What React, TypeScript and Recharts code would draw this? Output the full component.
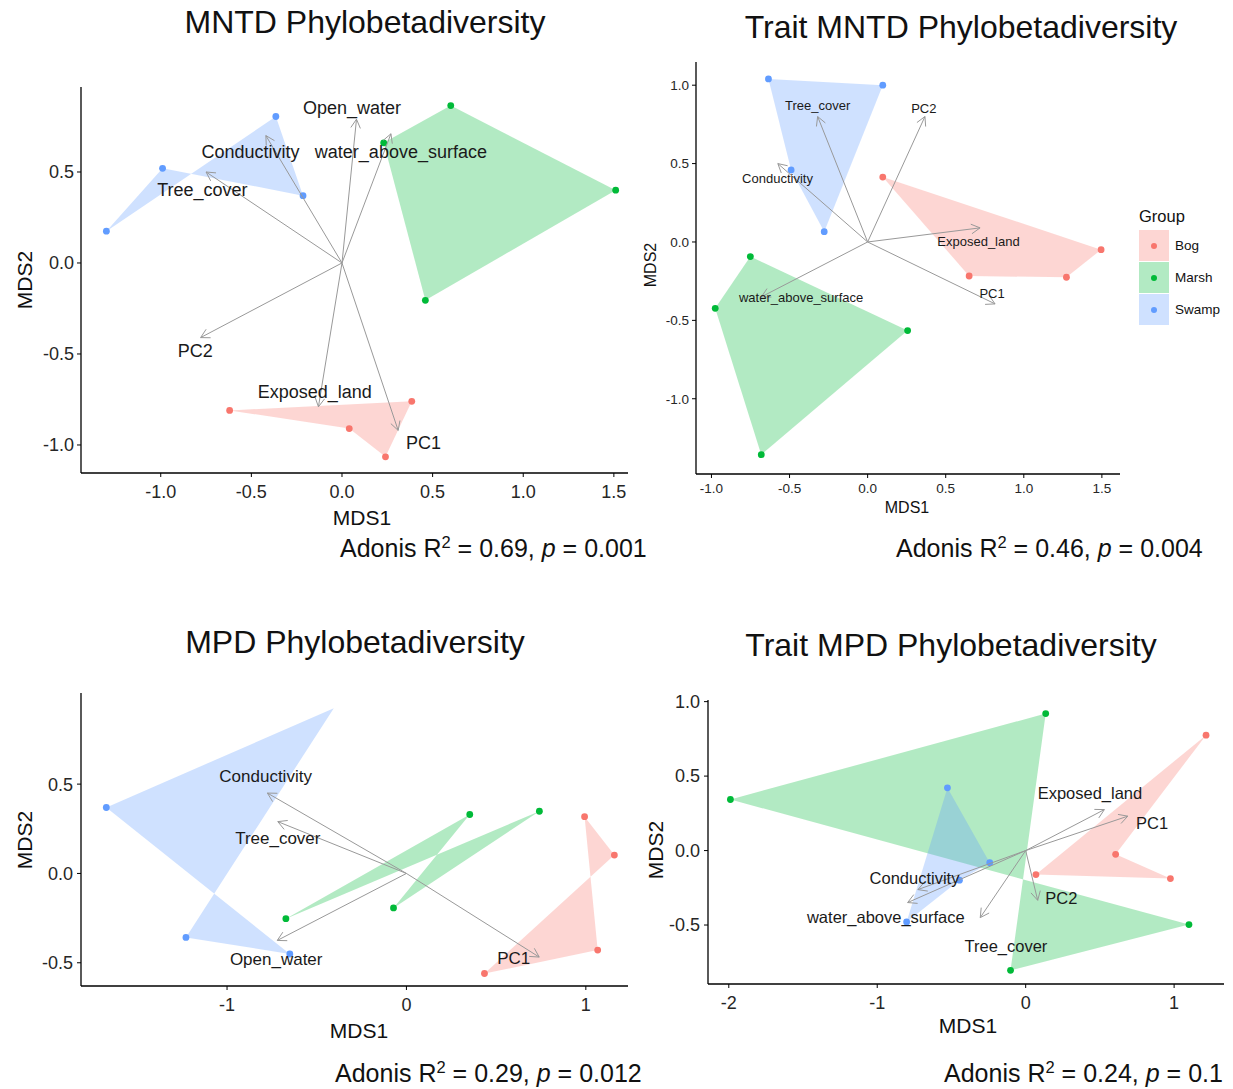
import React from 'react';
import { ScatterChart, Scatter, XAxis, YAxis } from 'recharts';

type Pt = { x: number; y: number; hidden?: boolean };
type Vec = { name: string; x: number; y: number };

const groups = ['Bog', 'Marsh', 'Swamp'];
const groupColors = ['#F8766D', '#00BA38', '#619CFF'];

// MNTD Phylobetadiversity
const mntdBog: Pt[] = [{ x: -0.62, y: -0.81 }, { x: 0.04, y: -0.91 }, { x: 0.24, y: -1.065 }, { x: 0.385, y: -0.76 }];
const mntdMarsh: Pt[] = [{ x: 0.23, y: 0.66 }, { x: 0.6, y: 0.865 }, { x: 1.51, y: 0.4 }, { x: 0.46, y: -0.205 }];
const mntdSwamp: Pt[] = [{ x: -1.3, y: 0.175 }, { x: -0.99, y: 0.52 }, { x: -0.215, y: 0.37 }, { x: -0.365, y: 0.805 }];
const mntdArrows: Vec[] = [
  { name: 'Open_water', x: 0.08, y: 0.79 },
  { name: 'water_above_surface', x: 0.27, y: 0.71 },
  { name: 'Conductivity', x: -0.42, y: 0.7 },
  { name: 'Tree_cover', x: -0.75, y: 0.5 },
  { name: 'PC2', x: -0.78, y: -0.41 },
  { name: 'Exposed_land', x: -0.13, y: -0.79 },
  { name: 'PC1', x: 0.31, y: -0.92 },
];
const mntdLabels: Vec[] = [
  { name: 'Open_water', x: 0.055, y: 0.85 },
  { name: 'water_above_surface', x: 0.325, y: 0.61 },
  { name: 'Conductivity', x: -0.505, y: 0.61 },
  { name: 'Tree_cover', x: -0.77, y: 0.4 },
  { name: 'PC2', x: -0.81, y: -0.485 },
  { name: 'Exposed_land', x: -0.15, y: -0.71 },
  { name: 'PC1', x: 0.45, y: -0.99 },
];

// Trait MNTD Phylobetadiversity
const tmntdBog: Pt[] = [{ x: 0.097, y: 0.414 }, { x: 1.495, y: -0.049 }, { x: 1.273, y: -0.225 }, { x: 0.65, y: -0.217 }];
const tmntdMarsh: Pt[] = [{ x: -0.751, y: -0.093 }, { x: 0.256, y: -0.565 }, { x: -0.681, y: -1.357 }, { x: -0.976, y: -0.423 }];
const tmntdSwamp: Pt[] = [{ x: -0.635, y: 1.04 }, { x: 0.097, y: 1.0 }, { x: -0.278, y: 0.066 }, { x: -0.49, y: 0.459 }];
const tmntdArrows: Vec[] = [
  { name: 'Tree_cover', x: -0.32, y: 0.8 },
  { name: 'PC2', x: 0.367, y: 0.8 },
  { name: 'Conductivity', x: -0.575, y: 0.5 },
  { name: 'Exposed_land', x: 0.72, y: 0.09 },
  { name: 'PC1', x: 0.816, y: -0.395 },
  { name: 'water_above_surface', x: -0.68, y: -0.35 },
];
const tmntdLabels: Vec[] = [
  { name: 'Tree_cover', x: -0.32, y: 0.87 },
  { name: 'PC2', x: 0.36, y: 0.852 },
  { name: 'Conductivity', x: -0.577, y: 0.408 },
  { name: 'Exposed_land', x: 0.71, y: 0.005 },
  { name: 'PC1', x: 0.797, y: -0.331 },
  { name: 'water_above_surface', x: -0.426, y: -0.351 },
];

// MPD Phylobetadiversity
const mpdBog: Pt[] = [{ x: 0.993, y: 0.318 }, { x: 1.159, y: 0.103 }, { x: 0.435, y: -0.56 }, { x: 1.066, y: -0.429 }];
const mpdMarsh: Pt[] = [{ x: -0.672, y: -0.253 }, { x: 0.353, y: 0.33 }, { x: -0.072, y: -0.193 }, { x: 0.741, y: 0.348 }];
const mpdSwamp: Pt[] = [{ x: -1.673, y: 0.369 }, { x: -0.405, y: 0.925, hidden: true }, { x: -1.229, y: -0.358 }, { x: -0.65, y: -0.451 }];
const mpdArrows: Vec[] = [
  { name: 'Conductivity', x: -0.775, y: 0.45 },
  { name: 'Tree_cover', x: -0.717, y: 0.29 },
  { name: 'Open_water', x: -0.72, y: -0.375 },
  { name: 'PC1', x: 0.74, y: -0.468 },
];
const mpdLabels: Vec[] = [
  { name: 'Conductivity', x: -0.785, y: 0.54 },
  { name: 'Tree_cover', x: -0.717, y: 0.195 },
  { name: 'Open_water', x: -0.726, y: -0.48 },
  { name: 'PC1', x: 0.598, y: -0.478 },
];

// Trait MPD Phylobetadiversity
const tmpdBog: Pt[] = [{ x: 0.069, y: -0.161 }, { x: 1.215, y: 0.775 }, { x: 0.606, y: -0.025 }, { x: 0.975, y: -0.188 }];
const tmpdMarsh: Pt[] = [{ x: -1.989, y: 0.343 }, { x: 0.135, y: 0.92 }, { x: -0.102, y: -0.804 }, { x: 1.1, y: -0.497 }];
const tmpdSwamp: Pt[] = [{ x: -0.527, y: 0.421 }, { x: -0.242, y: -0.081 }, { x: -0.446, y: -0.199 }, { x: -0.802, y: -0.479 }];
const tmpdArrows: Vec[] = [
  { name: 'Exposed_land', x: 0.53, y: 0.275 },
  { name: 'PC1', x: 0.688, y: 0.231 },
  { name: 'PC2', x: 0.081, y: -0.334 },
  { name: 'Tree_cover', x: -0.306, y: -0.45 },
  { name: 'Conductivity', x: -0.726, y: -0.262 },
  { name: 'water_above_surface', x: -0.795, y: -0.349 },
];
const tmpdLabels: Vec[] = [
  { name: 'Exposed_land', x: 0.433, y: 0.384 },
  { name: 'PC1', x: 0.852, y: 0.183 },
  { name: 'PC2', x: 0.24, y: -0.321 },
  { name: 'Tree_cover', x: -0.133, y: -0.642 },
  { name: 'Conductivity', x: -0.749, y: -0.186 },
  { name: 'water_above_surface', x: -0.942, y: -0.449 },
];

const fmt1 = (v: number) => v.toFixed(1);
const fmt0 = (v: number) => String(v);

const noShape = () => <g />;

const drawArrow = (p: any) => {
  const [a, b] = p.points;
  const ang = Math.atan2(b.y - a.y, b.x - a.x);
  const L = 10;
  const s = 0.5;
  const h1x = b.x - L * Math.cos(ang - s);
  const h1y = b.y - L * Math.sin(ang - s);
  const h2x = b.x - L * Math.cos(ang + s);
  const h2y = b.y - L * Math.sin(ang + s);
  return (
    <path
      d={`M${a.x},${a.y}L${b.x},${b.y}M${h1x},${h1y}L${b.x},${b.y}L${h2x},${h2y}`}
      stroke="#999"
      strokeWidth={1}
      fill="none"
    />
  );
};

type PanelProps = {
  box: { l: number; r: number; t: number; b: number };
  xDomain: [number, number];
  yDomain: [number, number];
  xTicks: number[];
  yTicks: number[];
  xFmt: (v: number) => string;
  hulls: Pt[][];
  arrows: Vec[];
  labels: Vec[];
  tickSize: number;
  labelSize: number;
  xMargin: number;
  yMargin: number;
};

const Panel = ({ box, xDomain, yDomain, xTicks, yTicks, xFmt, hulls, arrows, labels, tickSize, labelSize, xMargin, yMargin }: PanelProps) => {
  const yw = 70, mt = 10, mr = 10, xh = 40;
  const w = yw + (box.r - box.l) + mr;
  const h = mt + (box.b - box.t) + xh;
  const tickStyle = { fontSize: tickSize, fill: '#262626' };
  return (
    <div style={{ position: 'absolute', left: box.l - yw, top: box.t - mt }}>
      <ScatterChart width={w} height={h} margin={{ top: mt, right: mr, bottom: 0, left: 0 }}>
        <XAxis
          type="number"
          dataKey="x"
          domain={xDomain}
          ticks={xTicks}
          tickFormatter={xFmt}
          height={xh}
          allowDataOverflow
          tick={tickStyle}
          tickSize={4}
          tickMargin={xMargin}
          axisLine={{ stroke: '#000', strokeWidth: 1.3 }}
          tickLine={{ stroke: '#000' }}
        />
        <YAxis
          type="number"
          dataKey="y"
          domain={yDomain}
          ticks={yTicks}
          tickFormatter={fmt1}
          width={yw}
          allowDataOverflow
          tick={tickStyle}
          tickSize={4}
          tickMargin={yMargin}
          axisLine={{ stroke: '#000', strokeWidth: 1.3 }}
          tickLine={{ stroke: '#000' }}
        />
        {hulls.map((pts, i) => (
          <Scatter
            key={'hull' + i}
            name={groups[i]}
            data={pts}
            line={{ fill: groupColors[i], fillOpacity: 0.3, stroke: 'none' }}
            lineJointType="linearClosed"
            shape={noShape}
            isAnimationActive={false}
          />
        ))}
        {hulls.map((pts, i) => (
          <Scatter
            key={'pts' + i}
            data={pts.filter((p) => !p.hidden)}
            shape={(p: any) => <circle cx={p.cx} cy={p.cy} r={3.4} fill={groupColors[i]} />}
            isAnimationActive={false}
          />
        ))}
        {arrows.map((a) => (
          <Scatter
            key={'arr' + a.name}
            data={[{ x: 0, y: 0 }, { x: a.x, y: a.y }]}
            line={drawArrow}
            shape={noShape}
            isAnimationActive={false}
          />
        ))}
        <Scatter
          data={labels}
          shape={(p: any) => (
            <text x={p.cx} y={p.cy} textAnchor="middle" dominantBaseline="central" fontSize={labelSize} fill="#1a1a1a">
              {p.payload ? p.payload.name : p.name}
            </text>
          )}
          isAnimationActive={false}
        />
      </ScatterChart>
    </div>
  );
};

const Txt = ({ x, y, size, children, rotate, align }: { x: number; y: number; size: number; children: React.ReactNode; rotate?: boolean; align?: 'left' }) => (
  <div
    style={{
      position: 'absolute',
      left: x,
      top: y,
      fontSize: size,
      lineHeight: 1,
      whiteSpace: 'nowrap',
      color: '#111',
      transform: align === 'left' ? 'translate(0,-50%)' : `translate(-50%,-50%)${rotate ? ' rotate(-90deg)' : ''}`,
    }}
  >
    {children}
  </div>
);

const Adonis = ({ x, y, r2, p }: { x: number; y: number; r2: string; p: string }) => (
  <Txt x={x} y={y} size={25} align="left">
    Adonis R<span style={{ fontSize: '0.66em', position: 'relative', top: '-0.55em' }}>2</span> = {r2}, <i>p</i> = {p}
  </Txt>
);

const App = () => {
  return (
    <div
      style={{
        position: 'absolute',
        left: 0,
        top: 0,
        width: 1233,
        height: 1089,
        background: '#fff',
        fontFamily: '"Liberation Sans", Arial, sans-serif',
        overflow: 'hidden',
      }}
    >
      <Txt x={365} y={22} size={32}>MNTD Phylobetadiversity</Txt>
      <Txt x={961} y={27} size={32}>Trait MNTD Phylobetadiversity</Txt>
      <Txt x={355} y={642} size={32}>MPD Phylobetadiversity</Txt>
      <Txt x={951} y={645} size={32}>Trait MPD Phylobetadiversity</Txt>

      <Panel
        box={{ l: 81, r: 628, t: 87, b: 473 }}
        xDomain={[-1.44, 1.578]}
        yDomain={[-1.154, 0.967]}
        xTicks={[-1, -0.5, 0, 0.5, 1, 1.5]}
        yTicks={[-1, -0.5, 0, 0.5]}
        xFmt={fmt1}
        hulls={[mntdBog, mntdMarsh, mntdSwamp]}
        arrows={mntdArrows}
        labels={mntdLabels}
        tickSize={18}
        labelSize={18}
        xMargin={8}
        yMargin={3}
      />
      <Panel
        box={{ l: 696, r: 1120, t: 62, b: 474 }}
        xDomain={[-1.099, 1.616]}
        yDomain={[-1.48, 1.148]}
        xTicks={[-1, -0.5, 0, 0.5, 1, 1.5]}
        yTicks={[-1, -0.5, 0, 0.5, 1]}
        xFmt={fmt1}
        hulls={[tmntdBog, tmntdMarsh, tmntdSwamp]}
        arrows={tmntdArrows}
        labels={tmntdLabels}
        tickSize={13.5}
        labelSize={13}
        xMargin={5}
        yMargin={3}
      />
      <Panel
        box={{ l: 81, r: 628, t: 693, b: 986 }}
        xDomain={[-1.814, 1.235]}
        yDomain={[-0.63, 1.01]}
        xTicks={[-1, 0, 1]}
        yTicks={[-0.5, 0, 0.5]}
        xFmt={fmt0}
        hulls={[mpdBog, mpdMarsh, mpdSwamp]}
        arrows={mpdArrows}
        labels={mpdLabels}
        tickSize={18}
        labelSize={17}
        xMargin={8}
        yMargin={4}
      />
      <Panel
        box={{ l: 708, r: 1224, t: 700, b: 984 }}
        xDomain={[-2.14, 1.336]}
        yDomain={[-0.896, 1.011]}
        xTicks={[-2, -1, 0, 1]}
        yTicks={[-0.5, 0, 0.5, 1]}
        xFmt={fmt0}
        hulls={[tmpdBog, tmpdMarsh, tmpdSwamp]}
        arrows={tmpdArrows}
        labels={tmpdLabels}
        tickSize={18}
        labelSize={16.5}
        xMargin={8}
        yMargin={4}
      />

      <Txt x={362} y={517} size={21}>MDS1</Txt>
      <Txt x={24} y={280} size={21} rotate>MDS2</Txt>
      <Txt x={907} y={508} size={16}>MDS1</Txt>
      <Txt x={651} y={265} size={16} rotate>MDS2</Txt>
      <Txt x={359} y={1030} size={21}>MDS1</Txt>
      <Txt x={24} y={840} size={21} rotate>MDS2</Txt>
      <Txt x={968} y={1025} size={21}>MDS1</Txt>
      <Txt x={655} y={850} size={21} rotate>MDS2</Txt>

      <Adonis x={340} y={548} r2="0.69" p="0.001" />
      <Adonis x={896} y={548} r2="0.46" p="0.004" />
      <Adonis x={335} y={1073} r2="0.29" p="0.012" />
      <Adonis x={944} y={1073} r2="0.24" p="0.1" />

      <div style={{ position: 'absolute', left: 1139, top: 208 }}>
        <div style={{ fontSize: 16.5, lineHeight: 1, color: '#111', marginBottom: 5 }}>Group</div>
        {groups.map((g, i) => (
          <div key={g} style={{ display: 'flex', alignItems: 'center', height: 32 }}>
            <div
              style={{
                width: 30,
                height: 31,
                background: groupColors[i] + '4d',
                position: 'relative',
                marginRight: 6,
              }}
            >
              <div
                style={{
                  position: 'absolute',
                  left: 12,
                  top: 12.5,
                  width: 6,
                  height: 6,
                  borderRadius: 3,
                  background: groupColors[i],
                }}
              />
            </div>
            <span style={{ fontSize: 13.5, color: '#111' }}>{g}</span>
          </div>
        ))}
      </div>
    </div>
  );
};

export default App;
